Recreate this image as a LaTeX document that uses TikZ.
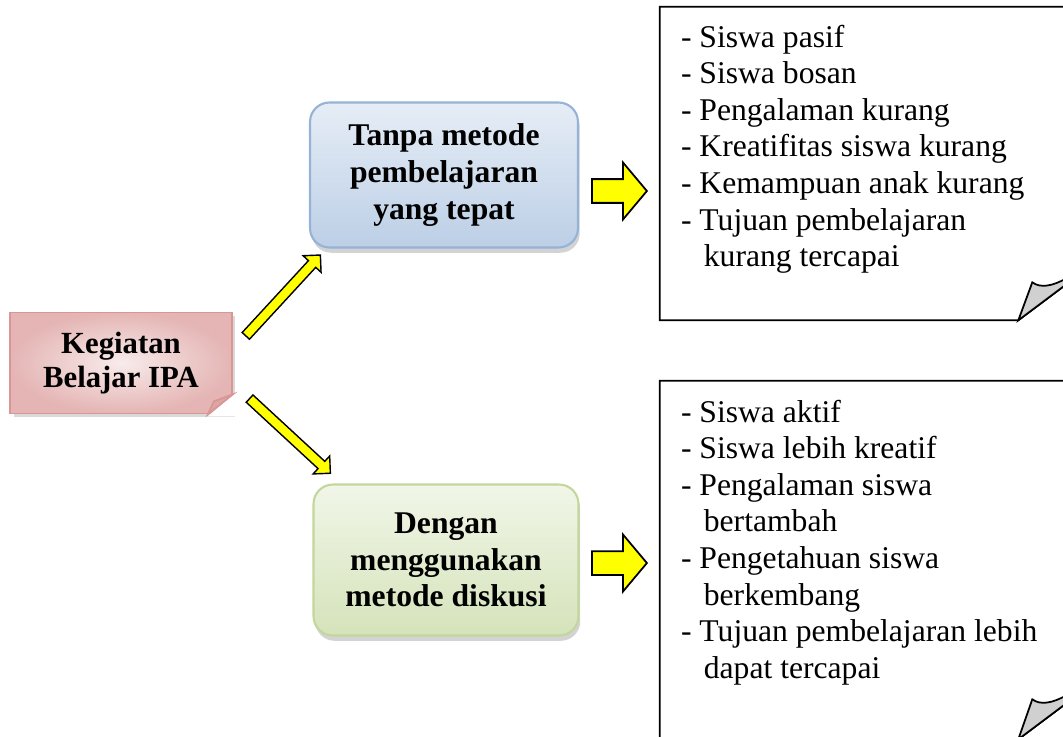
\documentclass[tikz,border=0pt]{standalone}
\usepackage{fontspec}
\setmainfont{Liberation Serif}
\usetikzlibrary{
  shapes.arrows,
  positioning,
  calc,
  shadows
}
\definecolor{pinkcenter}{HTML}{F8EBEB}
\definecolor{pinkedge}{HTML}{E4B5B4}
\definecolor{pinkline}{HTML}{D99694}
\definecolor{pinkflap}{HTML}{DCA6A5}
\definecolor{bluetop}{HTML}{E6EDF6}
\definecolor{bluebot}{HTML}{BCCFE6}
\definecolor{blueline}{HTML}{95B3D7}
\definecolor{greentop}{HTML}{F1F6E8}
\definecolor{greenbot}{HTML}{D5E3BA}
\definecolor{greenline}{HTML}{C3D69B}
\definecolor{arrowyellow}{HTML}{FFFF00}
\definecolor{foldgray}{HTML}{D0D0D0}

\begin{document}
\begin{tikzpicture}[
    x=0.02cm, y=-0.02cm,
    every node/.style={font=\fontsize{18}{20.8}\selectfont},
    topic/.style={
      rectangle, draw=pinkline, line width=1pt,
      inner color=pinkcenter, outer color=pinkedge,
      minimum width=4.44cm, minimum height=2.02cm,
      align=center, font=\fontsize{17.5}{19}\selectfont\bfseries,
      drop shadow={shadow xshift=2pt, shadow yshift=-2pt, opacity=0.3}
    },
    method/.style={
      rectangle, rounded corners=11pt, line width=1.2pt,
      minimum width=5.36cm, minimum height=2.9cm,
      align=center, font=\fontsize{18}{20.8}\selectfont\bfseries,
      drop shadow={shadow xshift=1pt, shadow yshift=-3pt, opacity=0.35}
    },
    diagarrow/.style={
      single arrow, draw, fill=arrowyellow, line width=0.8pt,
      minimum height=2.2cm, minimum width=0.46cm,
      single arrow head extend=0.145cm,
      inner xsep=0pt, inner ysep=0.085cm
    },
    blockarrow/.style={
      single arrow, draw, fill=arrowyellow, line width=1pt,
      minimum height=1.1cm, minimum width=1.1cm,
      single arrow head extend=0.33cm, single arrow tip angle=100,
      inner xsep=0pt, inner ysep=0.22cm
    },
    paper/.style={rectangle, minimum width=8.4cm, inner sep=0pt},
    items/.style={align=left, inner sep=0pt, anchor=north west},
    paperline/.style={line width=1pt},
  ]
  \useasboundingbox (0,0) rectangle (1063,737);

  % --- Main topic ---
  \node[topic] (kegiatan) at (121,363) {Kegiatan\\Belajar IPA};
  % folded corner
  \fill[white] ($(kegiatan.south east)+(-25,2)$) -- ($(kegiatan.south east)+(3,2)$)
    -- ($(kegiatan.south east)+(3,-22)$) -- cycle;
  \draw[pinkline, line width=1pt, fill=pinkflap]
    ($(kegiatan.south east)+(-25,0)$) -- ($(kegiatan.south east)+(-19,-13)$)
    -- ($(kegiatan.south east)+(0,-20)$) -- cycle;

  % --- Methods ---
  \node[method, draw=blueline, top color=bluetop, bottom color=bluebot] (tanpa)
    at (444,175) {Tanpa metode\\pembelajaran\\yang tepat};
  \node[method, draw=greenline, top color=greentop, bottom color=greenbot,
    minimum width=5.3cm, minimum height=3.02cm, below=4.7cm of tanpa, xshift=0.04cm]
    (dengan) {Dengan\\menggunakan\\metode diskusi};

  % --- Arrows ---
  \path ([shift={(11,-25)}]kegiatan.east) -- ([shift={(10,8)}]tanpa.south west)
    node[midway, sloped, diagarrow] (upArrow) {};
  \path ([shift={(15,34)}]kegiatan.east) -- ([shift={(16,-12)}]dengan.north west)
    node[midway, sloped, diagarrow] (downArrow) {};

  \node[blockarrow, right=0.24cm of tanpa, yshift=-0.32cm] (arrA) {};
  \node[blockarrow, right=0.23cm of dengan, yshift=-0.06cm] (arrB) {};

  % --- Result notes ---
  \node[paper, minimum height=6.26cm] (list1) at (870,163.5) {};
  \draw[paperline] (list1.north west) -- (list1.north east)
    -- ($(list1.south east)+(0,-42)$) -- ($(list1.south east)+(-14,-36)$)
    -- ($(list1.south east)+(-62,0)$) -- (list1.south west) -- cycle;
  \draw[paperline, fill=foldgray] ($(list1.south east)+(-62,0)$)
    -- ($(list1.south east)+(-48,-38)$)
    .. controls ($(list1.south east)+(-40,-32)$) and ($(list1.south east)+(-28,-34)$)
    .. ($(list1.south east)+(-14,-42)$) -- ($(list1.south east)+(-14,-36)$) -- cycle;

  \node[paper, minimum height=7.16cm] (list2) at (870,560) {};
  \draw[paperline] (list2.north west) -- (list2.north east)
    -- ($(list2.south east)+(0,-42)$) -- ($(list2.south east)+(-14,-36)$)
    -- ($(list2.south east)+(-62,0)$) -- (list2.south west) -- cycle;
  \draw[paperline, fill=foldgray] ($(list2.south east)+(-62,0)$)
    -- ($(list2.south east)+(-48,-40)$)
    .. controls ($(list2.south east)+(-40,-34)$) and ($(list2.south east)+(-28,-36)$)
    .. ($(list2.south east)+(-14,-44)$) -- ($(list2.south east)+(-14,-36)$) -- cycle;

  \node[items] (items1) at ([shift={(21,18)}]list1.north west)
    {- Siswa pasif\\
     - Siswa bosan\\
     - Pengalaman kurang\\
     - Kreatifitas siswa kurang\\
     - Kemampuan anak kurang\\
     - Tujuan pembelajaran\\
     \hspace*{13pt}kurang tercapai};

  \node[items] (items2) at ([shift={(21,19)}]list2.north west)
    {- Siswa aktif\\
     - Siswa lebih kreatif\\
     - Pengalaman siswa\\
     \hspace*{13pt}bertambah\\
     - Pengetahuan siswa\\
     \hspace*{13pt}berkembang\\
     - Tujuan pembelajaran lebih\\
     \hspace*{13pt}dapat tercapai};

\end{tikzpicture}
\end{document}
